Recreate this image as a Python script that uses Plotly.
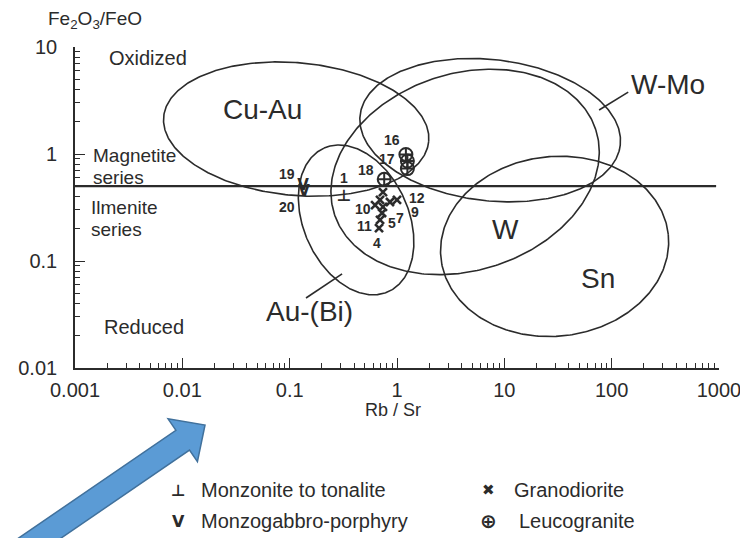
import numpy as np
import plotly.graph_objects as go

# ---------------- data ----------------
# Ore-deposit fields (ellipses in log-log space): centre values, semi-axes in decades, tilt
field_names = ["Cu-Au", "W-Mo", "W", "Sn", "Au-(Bi)"]
field_center_rbsr = [0.115, 7.38, 4.31, 29.4, 0.416]
field_center_fe = [1.71, 1.67, 0.68, 0.137, 0.242]
field_semi_a = [1.24, 1.22, 1.28, 1.065, 0.735]
field_semi_b = [0.62, 0.66, 0.92, 0.84, 0.49]
field_angle_deg = [-5.3, -6.6, 18.0, 6.0, 114.0]
field_label_rbsr = [0.0553, 336, 10.2, 74.8, 0.152]
field_label_fe = [2.58, 4.42, 0.195, 0.0693, 0.0341]

# label pointer lines (W-Mo, Au-(Bi))
pointer_wmo_rbsr = [76.4, 142.6]
pointer_wmo_fe = [2.58, 3.79]
pointer_aubi_rbsr = [0.142, 0.308]
pointer_aubi_fe = [0.0451, 0.0757]

# magnetite / ilmenite series boundary
boundary_rbsr = [0.001, 940]
boundary_fe = [0.5, 0.5]

# samples
monz_rbsr = [0.321]
monz_fe = [0.396]
gabbro_rbsr = [0.133, 0.136]
gabbro_fe = [0.50, 0.44]
grano_rbsr = [1.0, 0.86, 0.625, 0.74, 0.726, 0.695, 0.68, 0.74, 0.695]
grano_fe = [0.372, 0.356, 0.333, 0.32, 0.281, 0.242, 0.203, 0.44, 0.372]
leuco_rbsr = [1.21, 1.25, 1.25, 0.76]
leuco_fe = [0.99, 0.73, 0.86, 0.58]

# sample number labels
num_text = ["19", "20", "1", "18", "16", "17", "12", "9", "7", "5", "10", "11", "4"]
num_rbsr = [0.0942, 0.0942, 0.324, 0.518, 0.892, 0.80, 1.53, 1.48, 1.07, 0.89, 0.481, 0.499, 0.652]
num_fe = [0.645, 0.321, 0.593, 0.708, 1.35, 0.898, 0.385, 0.285, 0.254, 0.225, 0.306, 0.214, 0.146]

x_tickvals = [0.001, 0.01, 0.1, 1, 10, 100, 1000]
x_ticktext = ["0.001", "0.01", "0.1", "1", "10", "100", "1000"]
y_tickvals = [0.01, 0.1, 1, 10]
y_ticktext = ["0.01", "0.1", "1", "10"]

legend_names = ["Monzonite to tonalite", "Monzogabbro-porphyry", "Granodiorite", "Leucogranite"]

# ---------------- figure ----------------
INK = "#2b2b2b"
FONT = "Liberation Sans, Arial, sans-serif"
W, H = 740, 538
ML, MR, MT, MB = 75, 21, 47, 170
PW, PH = W - ML - MR, H - MT - MB


def px2paper(px, py):
    return (px - ML) / PW, (H - MB - py) / PH


fig = go.Figure()

t = np.linspace(0, 2 * np.pi, 361)
for cx, cy, a, b, ang in zip(field_center_rbsr, field_center_fe, field_semi_a, field_semi_b, field_angle_deg):
    th = np.deg2rad(ang)
    lx = np.log10(cx) + a * np.cos(t) * np.cos(th) - b * np.sin(t) * np.sin(th)
    ly = np.log10(cy) + a * np.cos(t) * np.sin(th) + b * np.sin(t) * np.cos(th)
    fig.add_trace(go.Scatter(x=10 ** lx, y=10 ** ly, mode="lines",
                             line=dict(color=INK, width=1.6), hoverinfo="skip"))

for px_, py_ in [(pointer_wmo_rbsr, pointer_wmo_fe), (pointer_aubi_rbsr, pointer_aubi_fe)]:
    fig.add_trace(go.Scatter(x=px_, y=py_, mode="lines", line=dict(color=INK, width=1.6)))

fig.add_trace(go.Scatter(x=boundary_rbsr, y=boundary_fe, mode="lines",
                         line=dict(color=INK, width=2.2)))

# samples
fig.add_trace(go.Scatter(x=grano_rbsr, y=grano_fe, mode="markers", name=legend_names[2],
                         marker=dict(symbol="x-thin", size=8, line=dict(color=INK, width=2.6))))
fig.add_trace(go.Scatter(x=leuco_rbsr, y=leuco_fe, mode="markers", name=legend_names[3],
                         marker=dict(symbol="circle-cross-open", size=13, color=INK,
                                     line=dict(color=INK, width=2))))
fig.add_trace(go.Scatter(x=monz_rbsr, y=monz_fe, mode="text", text=["⊥"], name=legend_names[0],
                         textfont=dict(family="DejaVu Sans", size=16, color=INK, weight="bold")))
fig.add_trace(go.Scatter(x=gabbro_rbsr, y=gabbro_fe, mode="text", text=["V", "V"], name=legend_names[1],
                         textfont=dict(family="DejaVu Sans", size=15, color=INK, weight="bold")))

ann = []
# sample numbers
for s, xv, yv in zip(num_text, num_rbsr, num_fe):
    ann.append(dict(x=np.log10(xv), y=np.log10(yv), xref="x", yref="y", text=s, showarrow=False,
                    font=dict(family=FONT, size=14, color=INK, weight="bold")))
# field names
for s, xv, yv in zip(field_names, field_label_rbsr, field_label_fe):
    ann.append(dict(x=np.log10(xv), y=np.log10(yv), xref="x", yref="y", text=s, showarrow=False,
                    font=dict(family=FONT, size=28, color=INK)))

# region texts
for s, (px, py), anchor, size in [
    ("Oxidized", (148, 58), "center", 20),
    ("Magnetite", (91, 155), "left", 19),
    ("series", (91, 177), "left", 19),
    ("Ilmenite", (89, 207), "left", 19),
    ("series", (89, 230), "left", 19),
    ("Reduced", (144, 327), "center", 20),
]:
    xp, yp = px2paper(px, py)
    ann.append(dict(x=xp, y=yp, xref="paper", yref="paper", text=s, showarrow=False,
                    xanchor=anchor, yanchor="middle", font=dict(family=FONT, size=size, color=INK)))

# axis titles
xp, yp = px2paper(95, 20)
ann.append(dict(x=xp, y=yp, xref="paper", yref="paper", showarrow=False, xanchor="center", yanchor="middle",
                text="Fe<sub>2</sub>O<sub>3</sub>/FeO", font=dict(family=FONT, size=19, color=INK)))
xp, yp = px2paper(393, 410)
ann.append(dict(x=xp, y=yp, xref="paper", yref="paper", showarrow=False, xanchor="center", yanchor="middle",
                text="Rb / Sr", font=dict(family=FONT, size=18, color=INK)))

# legend (bottom)
legend_symbols = ["⊥", "V", "✖", "⊕"]
legend_sym_font = ["DejaVu Sans", "DejaVu Sans", "DejaVu Sans", "DejaVu Sans"]
legend_sym_size = [16, 16, 15, 20]
legend_sym_pos = [(178, 490), (178, 521), (488, 490), (488, 521)]
legend_txt_pos = [(199, 490), (199, 521), (512, 490), (517, 521)]
for sym, ff, fs, (sx, sy), name, (tx, ty) in zip(legend_symbols, legend_sym_font, legend_sym_size,
                                                 legend_sym_pos, legend_names, legend_txt_pos):
    xp, yp = px2paper(sx, sy)
    ann.append(dict(x=xp, y=yp, xref="paper", yref="paper", text=sym, showarrow=False,
                    xanchor="center", yanchor="middle",
                    font=dict(family=ff, size=fs, color=INK, weight="bold")))
    xp, yp = px2paper(tx, ty)
    ann.append(dict(x=xp, y=yp, xref="paper", yref="paper", text=name, showarrow=False,
                    xanchor="left", yanchor="middle", font=dict(family=FONT, size=20, color=INK)))

# blue block arrow (slide decoration)
tip = np.array([205.0, 425.0])
ang = np.deg2rad(34.4)
u = np.array([np.cos(ang), -np.sin(ang)])
n = np.array([np.sin(ang), np.cos(ang)])
head_len, head_half, shaft_half, total = 27, 26, 12, 340
base = tip - head_len * u
tail = tip - total * u
pts = [tail - shaft_half * n, base - shaft_half * n, base - head_half * n, tip,
       base + head_half * n, base + shaft_half * n, tail + shaft_half * n]
path = "M " + " L ".join("%.4f,%.4f" % px2paper(p[0], p[1]) for p in pts) + " Z"
shapes = [dict(type="path", path=path, xref="paper", yref="paper",
               fillcolor="#5B9BD5", line=dict(color="#41719C", width=1.5), layer="above")]

axis_common = dict(type="log", showgrid=False, zeroline=False, showline=True, linecolor=INK,
                   linewidth=1.6, ticks="inside", ticklen=10, tickwidth=1.3, tickcolor=INK,
                   tickfont=dict(family=FONT, size=20, color=INK), ticklabeloverflow="allow",
                   automargin=False,
                   minor=dict(ticks="inside", ticklen=5, tickwidth=1.1, tickcolor=INK, dtick="D1",
                              showgrid=False))

fig.update_layout(
    width=W, height=H, margin=dict(l=ML, r=MR, t=MT, b=MB, autoexpand=False),
    paper_bgcolor="white", plot_bgcolor="white", showlegend=False,
    xaxis=dict(range=[-3, 3], tickvals=x_tickvals, ticktext=x_ticktext, ticklabelstandoff=3,
               **axis_common),
    yaxis=dict(range=[-2, 1], tickvals=y_tickvals, ticktext=y_ticktext, ticklabelstandoff=12,
               **axis_common),
    annotations=ann, shapes=shapes,
)

fig.write_html("out.html")
